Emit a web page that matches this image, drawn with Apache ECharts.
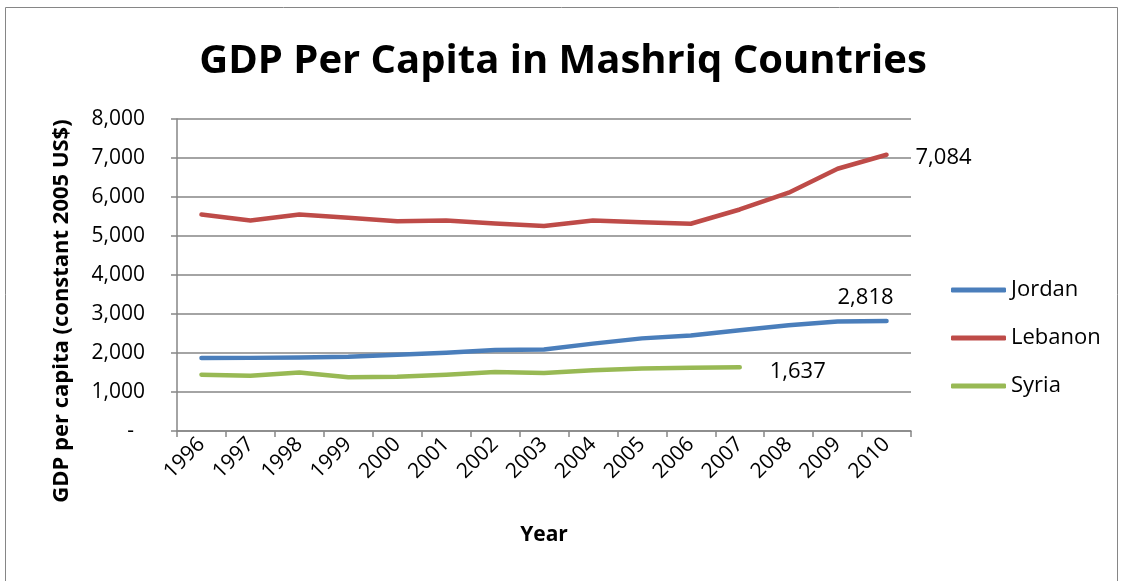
<!DOCTYPE html>
<html>
<head>
<meta charset="utf-8">
<script src="https://cdn.jsdelivr.net/npm/echarts@6/dist/echarts.min.js"></script>
<style>
  html, body { margin: 0; padding: 0; background: #fff; }
  #chart { width: 1126px; height: 581px; }
</style>
</head>
<body>
<div id="chart"></div>
<script>
// GDP per capita (constant 2005 US$), 1996-2010
const years = ['1996','1997','1998','1999','2000','2001','2002','2003','2004','2005','2006','2007','2008','2009','2010'];
const jordan  = [1870, 1875, 1885, 1905, 1955, 2005, 2075, 2090, 2240, 2375, 2450, 2585, 2710, 2810, 2818];
const lebanon = [5550, 5400, 5550, 5470, 5380, 5400, 5320, 5255, 5400, 5355, 5315, 5680, 6110, 6725, 7084];
const syria   = [1445, 1418, 1500, 1380, 1390, 1445, 1510, 1485, 1560, 1605, 1620, 1637];
const yTicks  = [0, 1000, 2000, 3000, 4000, 5000, 6000, 7000, 8000];

const FONT = "'Open Sans', 'Noto Sans', sans-serif";
const GRAY = '#868686';

const fmt = v => Number(v).toLocaleString('en-US');

// Value label at the last point of a line
function endLabel(extra) {
  return Object.assign({
    show: true,
    formatter: p => fmt(Array.isArray(p.value) ? p.value[1] : p.value),
    color: '#000', fontFamily: FONT, fontSize: 22
  }, extra);
}

const chart = echarts.init(document.getElementById('chart'), null, { renderer: 'canvas' });

chart.setOption({
  animation: false,
  backgroundColor: '#fff',
  title: {
    text: 'GDP Per Capita in Mashriq Countries',
    left: 'center',
    top: 37,
    textStyle: { fontFamily: FONT, fontWeight: 'bold', fontSize: 40, color: '#000' }
  },
  grid: { left: 177, right: 215, top: 119, bottom: 150, containLabel: false },
  legend: {
    orient: 'vertical',
    left: 946,
    top: 273,
    itemWidth: 55,
    itemHeight: 5,
    itemGap: 24,
    icon: 'roundRect',
    data: ['Jordan', 'Lebanon', 'Syria'],
    textStyle: { fontFamily: FONT, fontSize: 22, color: '#000', lineHeight: 24 }
  },
  xAxis: {
    type: 'category',
    data: years,
    boundaryGap: true,
    axisLine: { lineStyle: { color: GRAY, width: 1.5 } },
    axisTick: { show: true, length: 6, lineStyle: { color: GRAY, width: 1.5 } },
    axisLabel: { rotate: 45, margin: 10, interval: 0, color: '#000', fontFamily: FONT, fontSize: 21 },
    splitLine: { show: false }
  },
  yAxis: {
    type: 'value',
    min: yTicks[0],
    max: yTicks[yTicks.length - 1],
    interval: 1000,
    axisLine: { show: true, lineStyle: { color: GRAY, width: 1.5 } },
    axisTick: { show: true, length: 6, lineStyle: { color: GRAY, width: 1.5 } },
    axisLabel: {
      margin: 32, color: '#000', fontFamily: FONT, fontSize: 21,
      formatter: v => v === 0 ? '-  ' : fmt(v)
    },
    splitLine: { show: true, lineStyle: { color: GRAY, width: 1.5 } }
  },
  series: [
    {
      name: 'Jordan', type: 'line', data: jordan,
      symbol: 'none', lineStyle: { width: 4.5, color: '#4A7EBB', cap: 'round', join: 'round' },
      itemStyle: { color: '#4A7EBB' },
      endLabel: endLabel({ distance: 0, offset: [-49, -23] })
    },
    {
      name: 'Lebanon', type: 'line', data: lebanon,
      symbol: 'none', lineStyle: { width: 4.5, color: '#BE4B48', cap: 'round', join: 'round' },
      itemStyle: { color: '#BE4B48' },
      endLabel: endLabel({ distance: 29, offset: [0, 3] })
    },
    {
      name: 'Syria', type: 'line', data: syria,
      symbol: 'none', lineStyle: { width: 4.5, color: '#98B954', cap: 'round', join: 'round' },
      itemStyle: { color: '#98B954' },
      endLabel: endLabel({ distance: 30, offset: [0, 5] })
    }
  ],
  graphic: [
    // chart frame
    { type: 'rect', shape: { x: 5.5, y: 7.5, width: 1112, height: 600 }, silent: true,
      style: { fill: 'none', stroke: GRAY, lineWidth: 1 } },
    // axis titles
    { type: 'text', x: 62, y: 311, rotation: Math.PI / 2, silent: true,
      style: { text: 'GDP per capita (constant 2005 US$)', fontFamily: FONT, fontWeight: 'bold',
               fontSize: 22, fill: '#000', align: 'center', verticalAlign: 'middle' } },
    { type: 'text', x: 544, y: 535, silent: true,
      style: { text: 'Year', fontFamily: FONT, fontWeight: 'bold', fontSize: 21, fill: '#000',
               align: 'center', verticalAlign: 'middle' } }
  ]
});
</script>
</body>
</html>
